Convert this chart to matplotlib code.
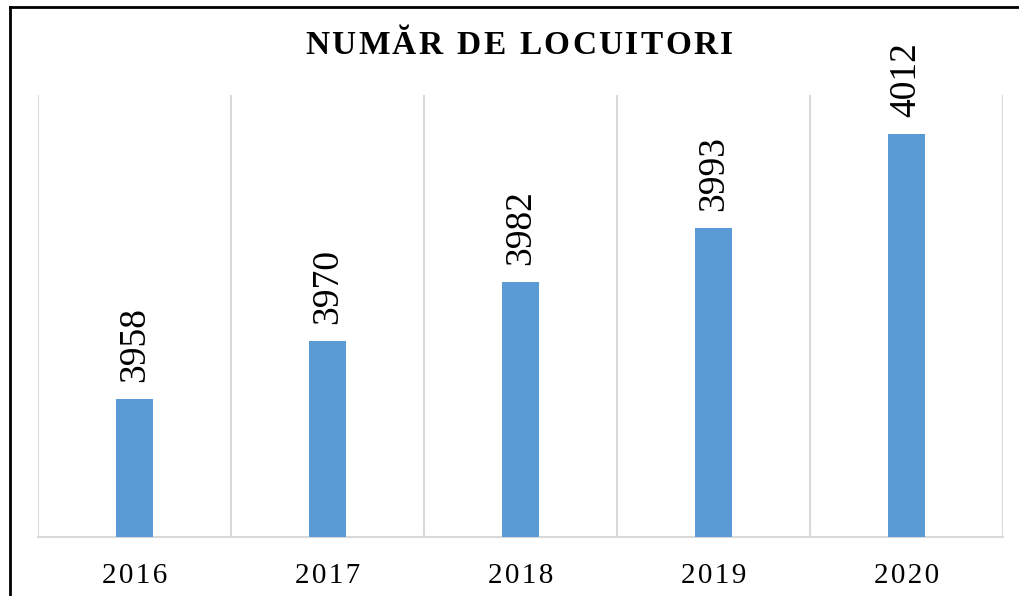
import matplotlib
matplotlib.use("Agg")
import matplotlib.pyplot as plt
from matplotlib.lines import Line2D

years = ["2016", "2017", "2018", "2019", "2020"]
locuitori = [3958, 3970, 3982, 3993, 4012]
title = "NUMĂR DE LOCUITORI"

plt.rcParams["font.family"] = ["Liberation Serif", "DejaVu Serif"]

W, H = 1020, 596
fig = plt.figure(figsize=(W / 100, H / 100), dpi=100)
ax = fig.add_axes([38 / W, (H - 537) / H, (1003 - 38) / W, (537 - 95) / H])

x = range(len(years))
ax.bar(x, locuitori, width=0.187, color="#5B9BD5", zorder=3)
for xi, v in zip(x, locuitori):
    ax.annotate(str(v), (xi, v), xytext=(0, 17), textcoords="offset pixels",
                rotation=90, ha="center", va="bottom", fontsize=27)

ax.set_xlim(-0.5, len(years) - 0.5)
ax.set_ylim(3930, 4020)
for b in [i - 0.5 for i in range(len(years) + 1)]:
    ax.axvline(b, color="#d9d9d9", lw=1.5, zorder=1)
for s in ["top", "right", "left"]:
    ax.spines[s].set_visible(False)
ax.spines["bottom"].set_color("#d9d9d9")
ax.spines["bottom"].set_linewidth(1.5)
ax.set_yticks([])
ax.set_xticks(list(x))
ax.set_xticklabels(["\u200a".join(y) for y in years], fontsize=21)
ax.tick_params(axis="x", length=0, pad=19)

# titlu cu spatiere intre litere
renderer = fig.canvas.get_renderer()
spacing = 2.4
space_w = 9
widths = []
for c in title:
    if c == " ":
        widths.append(space_w)
        continue
    t = fig.text(0, 0, c, fontsize=24, fontweight="bold")
    widths.append(t.get_window_extent(renderer).width)
    t.remove()
total = sum(widths) + spacing * (len(title) - 1)
xpos = 519 - total / 2
for c, w in zip(title, widths):
    if c != " ":
        fig.text(xpos / W, (H - 45) / H, c, fontsize=24, fontweight="bold",
                 ha="left", va="center")
    xpos += w + spacing

# chenar negru
fig.add_artist(Line2D([10 / W, 10 / W], [0, (H - 6.5) / H], color="black", lw=2))
fig.add_artist(Line2D([10 / W, 1], [(H - 6.5) / H, (H - 6.5) / H], color="black", lw=2))

fig.savefig("out.png", dpi=100)
